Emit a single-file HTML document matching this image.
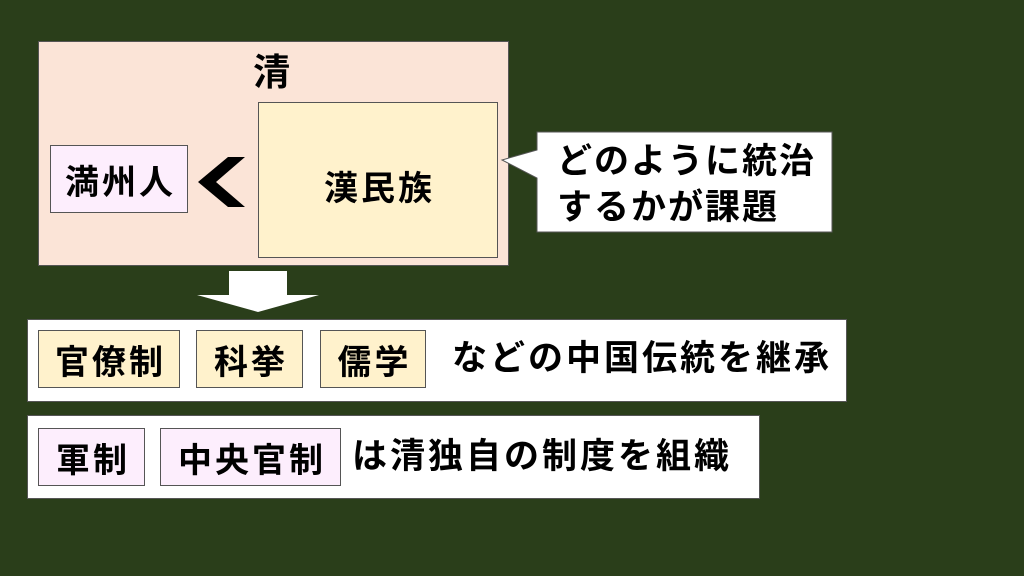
<!DOCTYPE html>
<html><head><meta charset="utf-8"><style>
body{margin:0;width:1024px;height:576px;background:#2a3e1a;position:relative;overflow:hidden;font-family:"Liberation Sans","Noto Sans CJK JP",sans-serif;font-weight:bold;color:#000}
.b{position:absolute;box-sizing:border-box;border:1px solid #555;display:flex;align-items:center;justify-content:center;font-size:34px;letter-spacing:3px;white-space:nowrap;padding-left:3px}
.y{background:#fff2cc}.p{background:#fdeefd}.w{background:#fff}
.t{position:absolute;font-size:35px;letter-spacing:3px;white-space:nowrap;line-height:1}
</style></head><body>
<div class="b" style="left:38px;top:41px;width:471px;height:225px;background:#fbe4d7;"></div>
<div class="t" style="left:253px;top:54px;font-size:37px">清</div>
<div class="b p" style="left:50px;top:145px;width:138px;height:68px">満州人</div>
<div class="b y" style="left:258px;top:102px;width:240px;height:156px;align-items:flex-start;padding-top:58px">漢民族</div>
<svg style="position:absolute;left:0;top:0" width="1024" height="576">
<polygon points="228,157 245,157 216,182 245,207 228,207 198,182" fill="#000"/>
<polygon points="537,132 832,132 832,232 537,232 537,178 502,160 537,150" fill="#fff" stroke="#555" stroke-width="1"/>
<polygon points="229,271 287,271 287,295 319,295 258,312 197,295 229,295" fill="#fff"/>
</svg>
<div class="t" style="left:557px;top:139px;line-height:46px;letter-spacing:2px">どのように統治<br>するかが課題</div>
<div class="b w" style="left:27px;top:319px;width:820px;height:83px"></div>
<div class="b y" style="left:38px;top:330px;width:142px;height:58px">官僚制</div>
<div class="b y" style="left:196px;top:330px;width:107px;height:58px">科挙</div>
<div class="b y" style="left:320px;top:330px;width:106px;height:58px">儒学</div>
<div class="t" style="left:452px;top:341px">などの中国伝統を継承</div>
<div class="b w" style="left:27px;top:415px;width:733px;height:84px"></div>
<div class="b p" style="left:38px;top:428px;width:107px;height:58px">軍制</div>
<div class="b p" style="left:160px;top:428px;width:181px;height:58px">中央官制</div>
<div class="t" style="left:352px;top:439px">は清独自の制度を組織</div>
</body></html>
